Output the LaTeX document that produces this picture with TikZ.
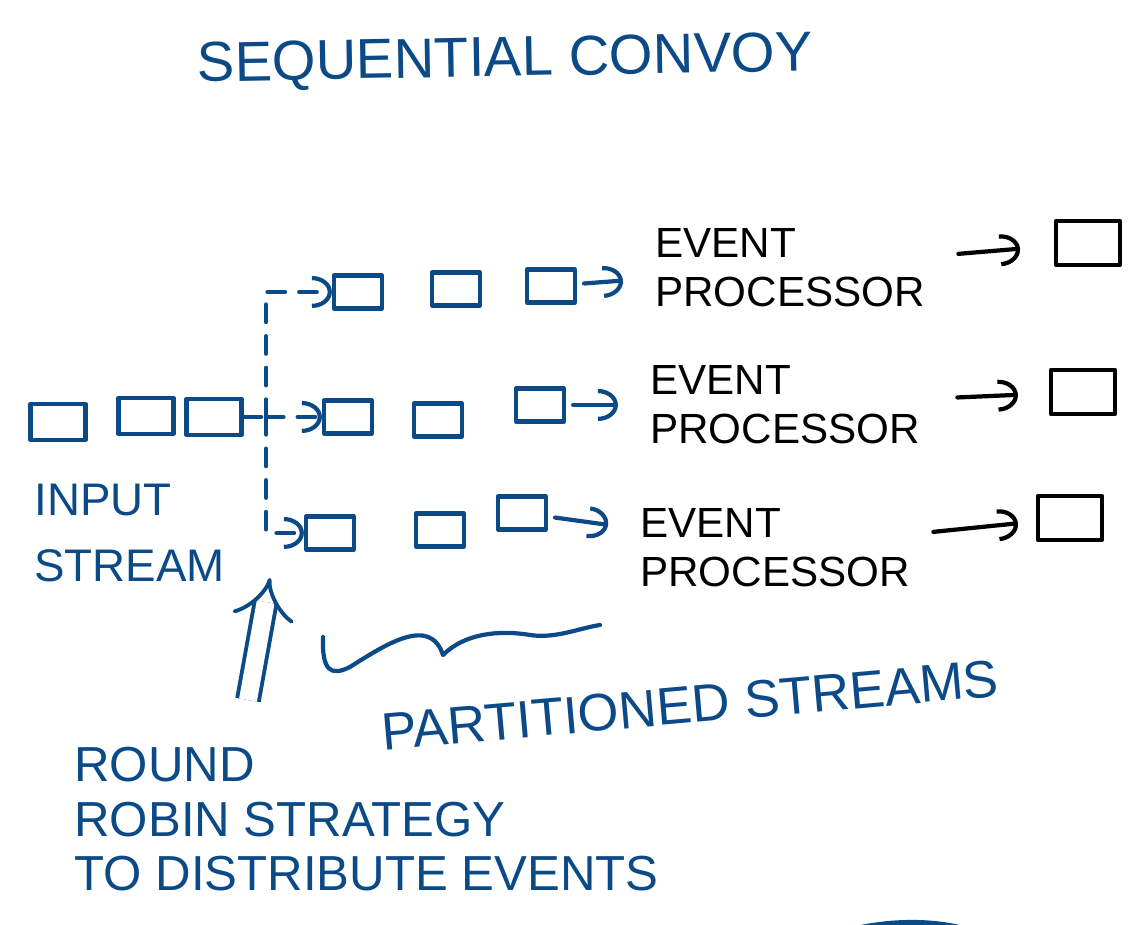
\documentclass[tikz,border=0pt]{standalone}
\usepackage{fontspec}
\setmainfont{Liberation Sans}
\usetikzlibrary{positioning,calc,arrows.meta}
\definecolor{ink}{RGB}{12,74,135}

\begin{document}
\begin{tikzpicture}[
	inkline/.style={draw=ink, line width=1.2pt, line cap=round, line join=round},
	penline/.style={draw=black, line width=1.2pt, line cap=round, line join=round},
	inbox/.style={inkline, minimum width=0.55cm, minimum height=0.36cm, inner sep=0pt},
	evbox/.style={inkline, minimum width=0.48cm, minimum height=0.33cm, inner sep=0pt},
	outbox/.style={penline, minimum width=0.64cm, minimum height=0.44cm, inner sep=0pt},
	headarr/.style={-{Arc Barb[length=2mm,width=3.2mm]}},
	flow/.style={inkline, dash pattern=on 5pt off 4pt},
	proc/.style={align=left, font=\fontsize{12}{14}\selectfont, inner sep=2pt},
	hand/.style={text=ink, align=left}
	]
		\useasboundingbox (0,0) rectangle (11.37,9.25);
		
		\node[hand, font=\fontsize{16}{18}\selectfont, rotate=1] (title) at (5.05,8.63) {SEQUENTIAL CONVOY};
		
		% input stream
		\node[inbox] (in0) at (0.58,5.03) {};
		\node[inbox] (in1) at (1.46,5.09) {};
		\node[inbox] (in2) at (2.14,5.08) {};
		\node[hand, anchor=west, font=\fontsize{13}{19}\selectfont] (inlbl) at (0.22,3.92) {INPUT\\STREAM};
		
		% partitioned streams
		\node[evbox] (p1a) at (3.58,6.33) {};
		\node[evbox] (p1b) at (4.56,6.36) {};
		\node[evbox] (p1c) at (5.51,6.39) {};
		\node[evbox] (p2a) at (3.48,5.08) {};
		\node[evbox] (p2b) at (4.38,5.05) {};
		\node[evbox] (p2c) at (5.40,5.20) {};
		\node[evbox] (p3a) at (3.30,3.92) {};
		\node[evbox] (p3b) at (4.40,3.95) {};
		\node[evbox] (p3c) at (5.22,4.12) {};
		
		\coordinate (split) at (2.66,5.08);
		\draw[flow] (in2) -- (split);
		\draw[flow, headarr] (split) |- (p1a);
		\draw[flow, headarr] (split) -- (p2a);
		\draw[flow, headarr] (split) |- (p3a);
		
		% processors
		\node[proc] (ep1) at (7.90,6.57) {EVENT\\PROCESSOR};
		\node[proc] (ep2) at (7.85,5.20) {EVENT\\PROCESSOR};
		\node[proc] (ep3) at (7.75,3.77) {EVENT\\PROCESSOR};
		
		\draw[inkline, headarr, shorten <=2pt, shorten >=7pt] (p1c) -- (ep1);
		\draw[inkline, headarr, shorten <=2pt, shorten >=7pt] (p2c) -- (ep2);
		\draw[inkline, headarr, shorten <=2pt, shorten >=7pt] (p3c) -- (ep3);
		
		\node[outbox] (out1) at (10.88,6.82) {};
		\node[outbox] (out2) at (10.83,5.33) {};
		\node[outbox] (out3) at (10.70,4.07) {};
		
		\draw[penline, headarr, shorten <=0.26cm, shorten >=0.34cm] (ep1) -- (out1);
		\draw[penline, headarr, shorten <=0.30cm, shorten >=0.31cm] (ep2) -- (out2);
		\draw[penline, headarr, shorten <=0.16cm, shorten >=0.18cm] (ep3) -- (out3);
		
		% brace under the streams
		\draw[inkline] (3.23,2.88) .. controls (3.22,2.55) and (3.30,2.48) .. (3.50,2.58)
			.. controls (3.85,2.80) and (4.30,3.10) .. (4.43,2.70)
			.. controls (4.65,2.92) and (5.00,2.95) .. (5.30,2.90)
			.. controls (5.55,2.86) and (5.80,2.97) .. (6.00,3.00);
		\node[hand, font=\fontsize{15}{18}\selectfont, rotate=5] (partlbl) at (6.90,2.20) {PARTITIONED STREAMS};
		
		% round robin
		\coordinate (rrtail) at (2.48,2.25);
		\coordinate (rrtip) at (2.70,3.47);
		\draw[draw=ink, double, double distance=1.8mm, line width=1.1pt, -{Implies}] (rrtail) -- (rrtip);
		\node[hand, anchor=north west, font=\fontsize{14}{15.5}\selectfont] (rrlbl) at (0.62,1.90) {ROUND\\ROBIN STRATEGY\\TO DISTRIBUTE EVENTS};
		
		\draw[inkline, line width=1.6pt] (8.60,-0.03) .. controls (8.95,0.04) and (9.30,0.04) .. (9.60,-0.03);
	\end{tikzpicture}
\end{document}
